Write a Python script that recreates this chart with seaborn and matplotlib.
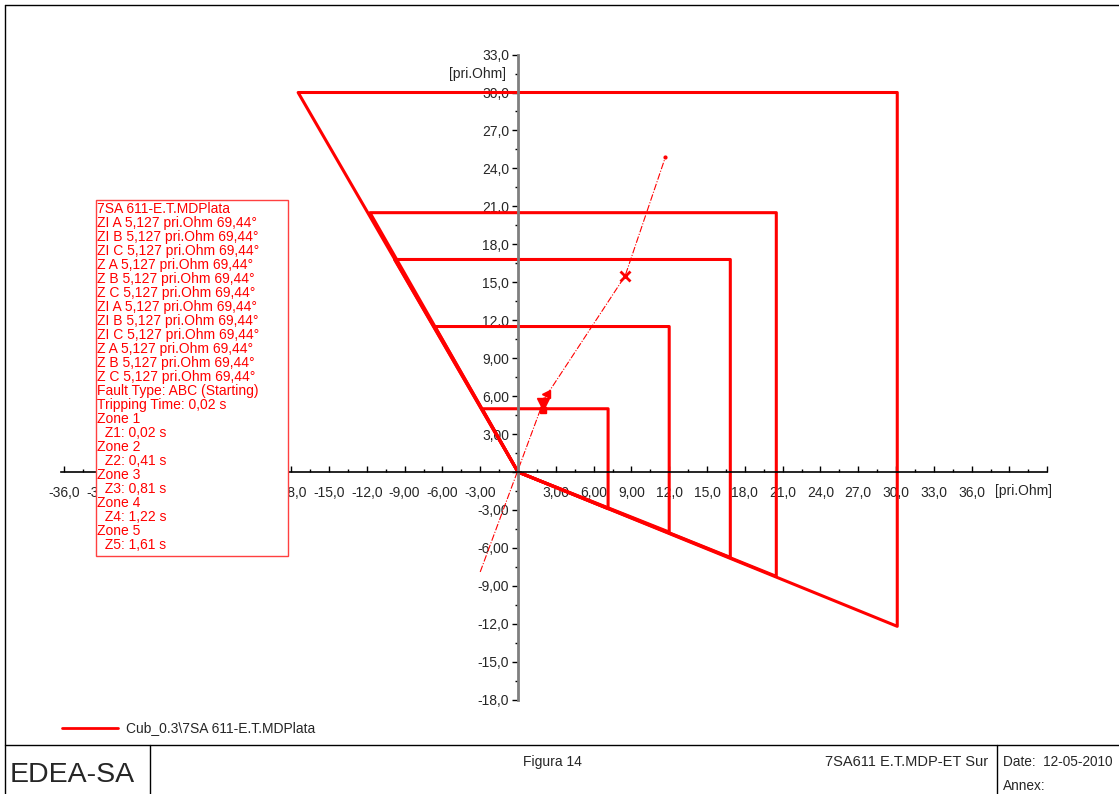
import matplotlib
matplotlib.use("Agg")
import matplotlib.pyplot as plt
import matplotlib.ticker as mticker
from matplotlib.lines import Line2D
from matplotlib.patches import Rectangle
from matplotlib.transforms import Bbox
import numpy as np
import pandas as pd
import seaborn as sns

# zone reaches (pri.Ohm)
zone_names = ["Z1", "Z2", "Z3", "Z4", "Z5"]
zone_r = [7.15, 12.0, 16.85, 20.5, 30.1]          # right edge (R reach)
zone_x = [5.0, 11.5, 16.8, 20.5, 30.0]            # top edge (X reach)
zone_left = [-2.85, -6.6, -9.8, -11.75, -17.45]   # top-left corner on the direction line
zone_bottom = [-2.9, -4.75, -6.75, -8.25, -12.2]  # bottom-right corner on the load line

# impedance trajectory
traj_r = [-3.0, 2.1, 8.5, 11.7]
traj_x = [-7.9, 5.8, 15.5, 24.9]

# axis ticks
x_major = np.arange(-36, 43, 3)
x_minor = np.arange(-36, 42.1, 1.5)
y_major = np.arange(-18, 34, 3)
y_minor = np.arange(-18, 33.1, 1.5)
x_hidden = [-30, -27, -24, -21, 39, 42]   # labels covered by the info box / unit text

box_lines = ["7SA 611-E.T.MDPlata",
             "ZI A 5,127 pri.Ohm 69,44°", "ZI B 5,127 pri.Ohm 69,44°", "ZI C 5,127 pri.Ohm 69,44°",
             "Z A 5,127 pri.Ohm 69,44°", "Z B 5,127 pri.Ohm 69,44°", "Z C 5,127 pri.Ohm 69,44°",
             "ZI A 5,127 pri.Ohm 69,44°", "ZI B 5,127 pri.Ohm 69,44°", "ZI C 5,127 pri.Ohm 69,44°",
             "Z A 5,127 pri.Ohm 69,44°", "Z B 5,127 pri.Ohm 69,44°", "Z C 5,127 pri.Ohm 69,44°",
             "Fault Type: ABC (Starting)", "Tripping Time: 0,02 s",
             "Zone 1", "  Z1: 0,02 s", "Zone 2", "  Z2: 0,41 s", "Zone 3", "  Z3: 0,81 s",
             "Zone 4", "  Z4: 1,22 s", "Zone 5", "  Z5: 1,61 s"]

sns.set_style("white")
plt.rcParams["font.family"] = ["Liberation Sans", "DejaVu Sans"]

W, H = 1119, 794
fig = plt.figure(figsize=(W / 100, H / 100), dpi=100)


def px(x, y):
    return x / W, 1 - y / H


# axes placed so the origin lands where it is in the reference
ax = fig.add_axes([40 / W, (H - 712) / H, 1020 / W, 672 / H])
ax.set_facecolor("none")
ax.set_xlim((40 - 518) / 12.6, (1060 - 518) / 12.6)
ax.set_ylim((472 - 712) / 12.65, (472 - 40) / 12.65)

# zone polygons
rows = []
for name, r, x, left, bot in zip(zone_names, zone_r, zone_x, zone_left, zone_bottom):
    pts = [(0, 0), (left, x), (r, x), (r, bot), (0, 0)]
    for i, (pr, pxv) in enumerate(pts):
        rows.append({"zone": name, "order": i, "R": pr, "X": pxv})
zones = pd.DataFrame(rows)
sns.lineplot(data=zones, x="R", y="X", units="zone", estimator=None, sort=False,
             color="red", lw=2.2, ax=ax, legend=False)

# trajectory
sns.lineplot(x=traj_r, y=traj_x, sort=False, estimator=None, color="red", lw=0.8,
             linestyle=(0, (6, 1.5, 1, 1.5)), ax=ax)
ax.plot(traj_r[1:], traj_x[1:], ls="none", marker="o", ms=2, color="red")
ax.plot(traj_r[2], traj_x[2], marker="x", ms=7, mew=2, color="red")
ax.plot(traj_r[1] - 0.1, traj_x[1] - 0.4, marker="v", ms=8, color="red")
ax.plot(traj_r[1] + 0.1, traj_x[1] + 0.4, marker="<", ms=6, color="red")
ax.plot(traj_r[1] - 0.1, traj_x[1] - 0.9, marker="s", ms=4, color="red")

# axes through the origin
for side in ["top", "right"]:
    ax.spines[side].set_visible(False)
ax.spines["left"].set_position(("data", 0))
ax.spines["bottom"].set_position(("data", 0))
ax.spines["left"].set_color("#7f7f7f")
ax.spines["left"].set_linewidth(2)
ax.spines["left"].set_bounds(-18, 33)
ax.spines["bottom"].set_color("black")
ax.spines["bottom"].set_linewidth(1.2)
ax.spines["bottom"].set_bounds(-36.3, 42)

ax.xaxis.set_major_locator(mticker.FixedLocator(x_major))
ax.xaxis.set_minor_locator(mticker.FixedLocator(x_minor))
ax.yaxis.set_major_locator(mticker.FixedLocator(y_major))
ax.yaxis.set_minor_locator(mticker.FixedLocator(y_minor))


def fmt(v, pos, hide=()):
    if abs(v) < 1e-9 or any(abs(v - h) < 1e-9 for h in hide):
        return ""
    s = f"{v:.2f}" if abs(v) < 10 else f"{v:.1f}"
    return s.replace(".", ",")


ax.xaxis.set_major_formatter(mticker.FuncFormatter(lambda v, p: fmt(v, p, x_hidden)))
ax.yaxis.set_major_formatter(mticker.FuncFormatter(fmt))
ax.tick_params(bottom=True, left=True, which="both", color="black")
ax.tick_params(axis="x", which="major", direction="in", length=4.5, width=1, labelsize=10, pad=10)
ax.tick_params(axis="x", which="minor", direction="in", length=2.5, width=1)
ax.tick_params(axis="y", which="major", direction="out", length=4.5, width=1, labelsize=10, pad=2)
ax.tick_params(axis="y", which="minor", direction="out", length=2.5, width=1)
ax.set_xlabel("")
ax.set_ylabel("")

fig.text(*px(995, 491), "[pri.Ohm]", fontsize=10, ha="left", va="center")
fig.text(*px(506, 74), "[pri.Ohm]", fontsize=10, ha="right", va="center")

# info box
bx0, by0, bx1, by1 = 96, 200, 288, 556
fig.patches.append(Rectangle(px(bx0, by1), (bx1 - bx0) / W, (by1 - by0) / H,
                             transform=fig.transFigure, facecolor="white",
                             edgecolor="#ff4040", lw=1, zorder=5))
for i, line in enumerate(box_lines):
    fig.text(*px(97, 209 + 14.0 * i), line, color="red", fontsize=10,
             ha="left", va="center", zorder=6)

# the -33 and -18 labels peek out on either side of the box
fig.canvas.draw()
for tick in ax.xaxis.get_major_ticks():
    v = tick.get_loc()
    if abs(v + 33) < 1e-9:
        tick.label1.set_clip_box(Bbox([[0, 0], [bx0, H]]))
        tick.label1.set_clip_on(True)
    elif abs(v + 18) < 1e-9:
        tick.label1.set_clip_box(Bbox([[bx1, 0], [W, H]]))
        tick.label1.set_clip_on(True)

# legend
fig.add_artist(Line2D([62 / W, 118 / W], [1 - 728 / H] * 2, color="red", lw=2))
fig.text(*px(126, 728), "Cub_0.3\\7SA 611-E.T.MDPlata", fontsize=10, va="center")

# frame and title block
frame = [([5, W], [5, 5]), ([5, 5], [5, H]), ([5, W], [745, 745]),
         ([150, 150], [745, H]), ([997, 997], [745, H])]
for xs, ys in frame:
    fig.add_artist(Line2D([x / W for x in xs], [1 - y / H for y in ys], color="black", lw=1))
fig.text(*px(10, 775), "EDEA-SA", fontsize=20.5, va="center", ha="left")
fig.text(*px(552, 762), "Figura 14", fontsize=10, va="center", ha="center")
fig.text(*px(988, 762), "7SA611 E.T.MDP-ET Sur", fontsize=10.5, va="center", ha="right")
fig.text(*px(1003, 762), "Date:  12-05-2010", fontsize=9.8, va="center", ha="left")
fig.text(*px(1003, 786), "Annex:", fontsize=9.8, va="center", ha="left")

fig.savefig("out.png", dpi=100)
